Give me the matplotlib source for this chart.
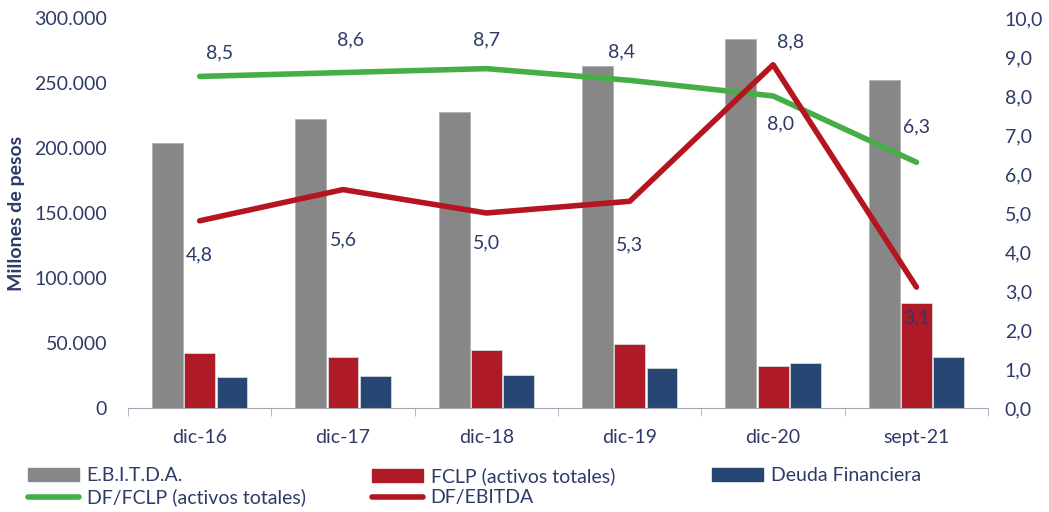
import numpy as np
import matplotlib
matplotlib.use("Agg")
import matplotlib.pyplot as plt
from matplotlib.ticker import FuncFormatter, MultipleLocator
from matplotlib.patches import Patch
from matplotlib.lines import Line2D

# datos
periodos = ["dic-16", "dic-17", "dic-18", "dic-19", "dic-20", "sept-21"]
ebitda = [204000, 222000, 228000, 263000, 284000, 252000]
fclp = [42000, 39000, 45000, 49000, 32000, 81000]
deuda = [24000, 25000, 25500, 31000, 35000, 39000]
df_fclp = [8.5, 8.6, 8.7, 8.4, 8.0, 6.3]
df_ebitda = [4.8, 5.6, 5.0, 5.3, 8.8, 3.1]

# desplazamientos de etiquetas (pixeles)
off_fclp = [(20, 24), (7, 33), (0, 29), (-8, 28), (7, -28), (0, 35)]
off_ebitda = [(0, -34), (0, -50), (0, -30), (0, -44), (17, 23), (0, -31)]

txt = "#2E3A68"
c_gris = "#878787"
c_rojo = "#AE1A26"
c_azul = "#264673"
c_verde = "#46AE46"
c_linea_roja = "#B5151F"
fs = 14

plt.rcParams["font.family"] = ["Lato", "DejaVu Sans"]

fig = plt.figure(figsize=(10.49, 5.12), dpi=100)
ax = fig.add_axes([0.122, 0.203, 0.82, 0.762])
ax2 = ax.twinx()

x = np.arange(len(periodos))
w = 0.215
ax.bar(x - 0.225, ebitda, w, color=c_gris, edgecolor="#b0b0b0", linewidth=0.6)
ax.bar(x, fclp, w, color=c_rojo, edgecolor="#d8d8d8", linewidth=0.6)
ax.bar(x + 0.225, deuda, w, color=c_azul, edgecolor="#d8d8d8", linewidth=0.6)

ax.set_xlim(-0.5, len(periodos) - 0.5)
ax.set_ylim(0, 300000)
ax.yaxis.set_major_locator(MultipleLocator(50000))
ax.yaxis.set_major_formatter(FuncFormatter(lambda v, p: f"{v:,.0f}".replace(",", ".")))
ax.set_xticks(x)
ax.set_xticklabels(periodos)
ax.set_xticks(np.arange(len(periodos) + 1) - 0.5, minor=True)
ax.tick_params(axis="x", which="major", length=0, pad=15, labelsize=fs, labelcolor=txt)
ax.tick_params(axis="x", which="minor", length=6, color="#A6A6B8")
ax.tick_params(axis="y", length=0, labelsize=fs, labelcolor=txt, pad=15)
ax.set_ylabel("Millones de pesos", fontsize=fs, fontweight="bold", color=txt, labelpad=7)

ax2.plot(x, df_fclp, color=c_verde, lw=4, solid_capstyle="round", zorder=3)
ax2.plot(x, df_ebitda, color=c_linea_roja, lw=4, solid_capstyle="round", zorder=4)
ax2.set_ylim(0, 10)
ax2.yaxis.set_major_locator(MultipleLocator(1))
ax2.yaxis.set_major_formatter(FuncFormatter(lambda v, p: f"{v:.1f}".replace(".", ",")))
ax2.tick_params(axis="y", length=0, labelsize=fs, labelcolor=txt, pad=12)

for i, v in enumerate(df_fclp):
    ax2.annotate(f"{v:.1f}".replace(".", ","), (x[i], v), xytext=off_fclp[i],
                 textcoords="offset pixels", ha="center", va="center",
                 fontsize=fs, color=txt, zorder=6)
for i, v in enumerate(df_ebitda):
    ax2.annotate(f"{v:.1f}".replace(".", ","), (x[i], v), xytext=off_ebitda[i],
                 textcoords="offset pixels", ha="center", va="center",
                 fontsize=fs, color=txt, zorder=6)

for a in (ax, ax2):
    for s in ("top", "left", "right"):
        a.spines[s].set_visible(False)
ax.spines["bottom"].set_color("#A6A6B8")
ax2.spines["bottom"].set_visible(False)

# leyenda en tres columnas
cols = [
    [(Patch(color=c_gris), "E.B.I.T.D.A."),
     (Line2D([], [], color=c_verde, lw=4, solid_capstyle="round"), "DF/FCLP (activos totales)")],
    [(Patch(color=c_rojo), "FCLP (activos totales)"),
     (Line2D([], [], color=c_linea_roja, lw=4, solid_capstyle="round"), "DF/EBITDA")],
    [(Patch(color=c_azul), "Deuda Financiera")],
]
xs = [0.027, 0.355, 0.679]
for xi, col in zip(xs, cols):
    fig.legend([h for h, _ in col], [l for _, l in col], loc="upper left",
               bbox_to_anchor=(xi, 0.087), frameon=False, fontsize=fs,
               labelcolor=txt, handlelength=2.6, handleheight=0.6,
               handletextpad=0.4, labelspacing=0.2, borderpad=0, borderaxespad=0)

fig.savefig("out.png", dpi=100)
